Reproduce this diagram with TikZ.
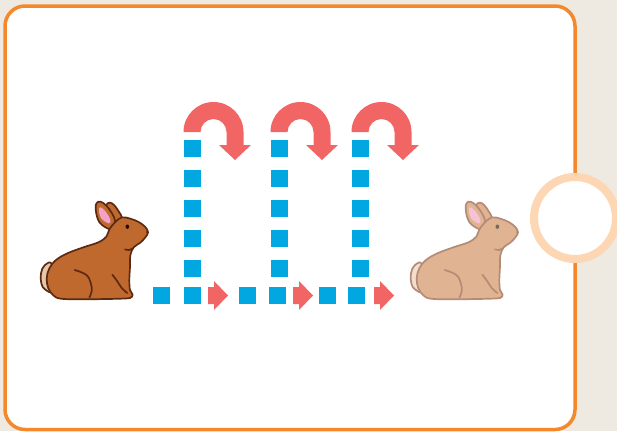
\documentclass[tikz,border=0pt]{standalone}
\definecolor{pagebg}{HTML}{EEEAE1}
\definecolor{frameorange}{HTML}{F5882A}
\definecolor{ringpeach}{HTML}{FDD6B3}
\definecolor{dotblue}{HTML}{00A7E1}
\definecolor{arrowred}{HTML}{F26565}
\definecolor{furdark}{HTML}{C0692F}
\definecolor{linedark}{HTML}{5C2A12}
\definecolor{tailbrown}{HTML}{E9C6A8}
\definecolor{furlight}{HTML}{E0B492}
\definecolor{linelight}{HTML}{B38B76}
\definecolor{taillight}{HTML}{F3DDCB}
\definecolor{earpink}{HTML}{F2A3C3}
\definecolor{earpinklight}{HTML}{F6C3D3}
\definecolor{eyedark}{HTML}{1E0C05}
\definecolor{eyegray}{HTML}{6E6A66}

\tikzset{
  frame/.style={draw=frameorange, line width=3.5pt, fill=white, rounded corners=20pt},
  ring/.style={draw=ringpeach, line width=8pt, fill=white},
  sq/.style={fill=dotblue},
  redarrow/.style={fill=arrowred},
}

% A sitting rabbit, drawn in a 390 x 360 grid scaled down by three
% #1 origin, #2 fur, #3 outline, #4 tail, #5 inner ear, #6 eye
\newcommand\drawrabbit[6]{%
  \begin{scope}[shift={#1}, scale=1/3, line width=1.7pt, line join=round, line cap=round]
    % tail
    \filldraw[fill=#4, draw=#3] plot[smooth cycle, tension=0.7] coordinates
      {(66,224) (44,226) (33,250) (34,280) (45,298) (66,300)};
    % back ear
    \filldraw[fill=#2, draw=#3] plot[smooth cycle, tension=0.65] coordinates
      {(246,108) (233,72) (228,46) (240,38) (253,46) (266,64) (276,84) (268,102)};
    % front ear
    \filldraw[fill=#2, draw=#3] plot[smooth cycle, tension=0.65] coordinates
      {(240,118) (215,104) (203,86) (197,56) (200,39) (212,35) (229,47)
       (246,70) (256,95) (252,113)};
    \fill[#5] plot[smooth cycle, tension=0.7] coordinates
      {(236,100) (213,84) (207,60) (212,52) (228,66) (241,90)};
    % body and head
    \filldraw[fill=#2, draw=#3] plot[smooth cycle, tension=0.6] coordinates
      {(238,118) (229,140) (205,157) (160,172) (112,190) (78,210) (58,235)
       (50,265) (55,295) (70,316) (92,326) (150,328) (230,327) (272,326)
       (300,324) (308,314) (300,300) (298,270) (300,230) (301,196) (311,172)
       (331,158) (346,142) (354,127) (346,111) (326,96) (301,86) (276,82) (256,96)};
    % inner lines: haunch, front leg, jaw
    \draw[#3] plot[smooth, tension=0.7] coordinates
      {(134,240) (168,254) (182,278) (185,304) (178,322)};
    \draw[#3] plot[smooth, tension=0.7] coordinates
      {(247,254) (262,274) (276,295) (292,309)};
    \draw[#3] plot[smooth, tension=0.7] coordinates
      {(285,178) (297,180) (308,175)};
    % eye and nose
    \fill[#6] (292,110) ellipse[x radius=5.5, y radius=6.5];
    \fill[#3] (351,126) circle[radius=3.5];
  \end{scope}%
}

\begin{document}
\begin{tikzpicture}[x=1pt, y=-1pt]
  \useasboundingbox (0,0) rectangle (617,431);
  \fill[pagebg] (0,0) rectangle (617,431);

  % card and side ring
  \path[frame] (5,6) rectangle (575,429.5);
  \path[ring] (575,218) circle[radius=41];

  % rabbits
  \drawrabbit{(30,190)}{furdark}{linedark}{tailbrown}{earpink}{eyedark}
  \drawrabbit{(400,190)}{furlight}{linelight}{taillight}{earpinklight}{eyegray}

  % vertical dotted columns with U-turn arrows on top
  \foreach \c in {192,279,360} {
    \foreach \y in {148.5,178.5,208.5,238.5,268.5}
      \fill[sq] (\c-8.5,\y-8.5) rectangle ++(17,17);
    \fill[redarrow] (\c-8.5,132) arc[start angle=180, end angle=360, radius=30]
      -- (\c+51.5,145) -- (\c+59,145) -- (\c+43,160) -- (\c+27,145)
      -- (\c+34.5,145) -- (\c+34.5,132)
      arc[start angle=360, end angle=180, radius=13] -- cycle;
  }

  % bottom dotted row
  \foreach \x in {161.5,192,247,277,327,356.5}
    \fill[sq] (\x-8.5,287) rectangle ++(17,17);

  % small right arrows along the row
  \foreach \a in {208,293,374}
    \fill[redarrow] (\a,287) -- (\a+6,287) -- (\a+6,281) -- (\a+20,295.5)
      -- (\a+6,310) -- (\a+6,304) -- (\a,304) -- cycle;
\end{tikzpicture}
\end{document}
